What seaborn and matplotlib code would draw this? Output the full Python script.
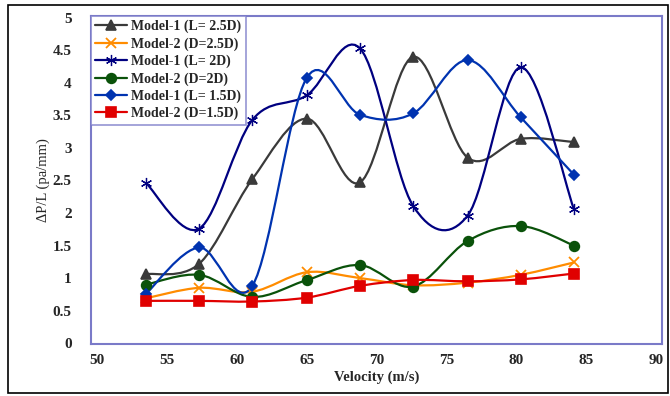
import numpy as np
import pandas as pd
import matplotlib
matplotlib.use("Agg")
import matplotlib.pyplot as plt
from matplotlib.path import Path
from matplotlib.patches import PathPatch, Rectangle
from matplotlib.lines import Line2D
import seaborn as sns

# Data
velocity = [53.5, 57.3, 61.1, 65.0, 68.8, 72.6, 76.5, 80.3, 84.1]
m1_25 = [1.06, 1.22, 2.52, 3.45, 2.47, 4.40, 2.85, 3.14, 3.09]
m2_25 = [0.69, 0.85, 0.79, 1.09, 1.00, 0.89, 0.93, 1.05, 1.24]
m1_20 = [2.46, 1.76, 3.43, 3.81, 4.53, 2.11, 1.96, 4.24, 2.06]
m2_20 = [0.90, 1.05, 0.71, 0.97, 1.20, 0.87, 1.57, 1.80, 1.50]
m1_15 = [0.76, 1.47, 0.88, 4.08, 3.51, 3.53, 4.35, 3.47, 2.59]
m2_15 = [0.65, 0.65, 0.64, 0.70, 0.88, 0.97, 0.95, 0.98, 1.07]

labels = ["Model-1 (L= 2.5D)", "Model-2 (D=2.5D)", "Model-1 (L= 2D)",
          "Model-2 (D=2D)", "Model-1 (L= 1.5D)", "Model-2 (D=1.5D)"]
series = [m1_25, m2_25, m1_20, m2_20, m1_15, m2_15]
colors = ["#3a3a3a", "#ff8c00", "#000080", "#0a520a", "#0033b0", "#e00000"]
markers = ["^", "x", (6, 2, 0), "o", "D", "s"]
msizes = [7, 7, 8, 7, 5, 7]
medges = [1.2, 1.3, 0.9, 1.2, 1.2, 1.2]

sns.set_theme(style="white")
plt.rcParams["font.family"] = ["Liberation Serif", "DejaVu Serif"]

fig = plt.figure(figsize=(6.7, 3.96), dpi=100)
ax = fig.add_axes([0.136, 0.131, 0.852, 0.829])


def smooth_path(xs, ys):
    # Excel-style smoothed line: cubic Bezier segments through the points
    pts = np.column_stack([xs, ys])
    verts = [pts[0]]
    codes = [Path.MOVETO]
    n = len(pts)
    for i in range(n - 1):
        p0 = pts[i - 1] if i > 0 else pts[i]
        p1 = pts[i]
        p2 = pts[i + 1]
        p3 = pts[i + 2] if i + 2 < n else pts[i + 1]
        c1 = p1 + (p2 - p0) / 6.0
        c2 = p2 - (p3 - p1) / 6.0
        verts += [c1, c2, p2]
        codes += [Path.CURVE4] * 3
    return Path(verts, codes)


handles = []
for lab, ys, c, m, ms, me in zip(labels, series, colors, markers, msizes, medges):
    ax.add_patch(PathPatch(smooth_path(velocity, ys), fill=False,
                           edgecolor=c, lw=1.6, zorder=2))
    df = pd.DataFrame({"v": velocity, "p": ys})
    sns.lineplot(data=df, x="v", y="p", ax=ax, color=c, lw=0,
                 marker=m, markersize=ms, markeredgecolor=c,
                 markeredgewidth=me, zorder=3)
    handles.append(Line2D([], [], color=c, lw=1.6, marker=m, markersize=ms,
                          markeredgecolor=c, markeredgewidth=me))

ax.set_xlim(49.57, 90.4)
ax.set_ylim(-0.015, 5.03)
ax.set_xticks([50, 55, 60, 65, 70, 75, 80, 85, 90])
ax.set_yticks([0, 0.5, 1, 1.5, 2, 2.5, 3, 3.5, 4, 4.5, 5])
ax.set_yticklabels(["0", "0.5", "1", "1.5", "2", "2.5", "3", "3.5", "4", "4.5", "5"])
ax.tick_params(axis="both", length=0, labelsize=11)
ax.tick_params(axis="y", pad=14)
ax.tick_params(axis="x", pad=7)
for t in ax.get_xticklabels() + ax.get_yticklabels():
    t.set_fontweight("bold")

ax.set_xlabel("Velocity (m/s)", fontsize=10.5, fontweight="bold", labelpad=3)
ax.set_ylabel("\u0394P/L (pa/mm)", fontsize=10.5, labelpad=2)

for s in ax.spines.values():
    s.set_color("#7a7ac8")
    s.set_linewidth(1.5)

leg = ax.legend(handles, labels, loc="upper left", bbox_to_anchor=(0, 1),
                frameon=True, fancybox=False, borderaxespad=0,
                prop={"weight": "bold", "size": 10}, handlelength=2.3,
                handletextpad=0.3, labelspacing=0.28, borderpad=0.3)
leg.get_frame().set_edgecolor("#7a7ac8")
leg.get_frame().set_linewidth(1.2)

# outer border
fig.patches.append(Rectangle((8 / 670, 3 / 396), 660 / 670, 388 / 396,
                             transform=fig.transFigure, fill=False,
                             edgecolor="black", lw=1.2))

fig.savefig("out.png", dpi=100)
